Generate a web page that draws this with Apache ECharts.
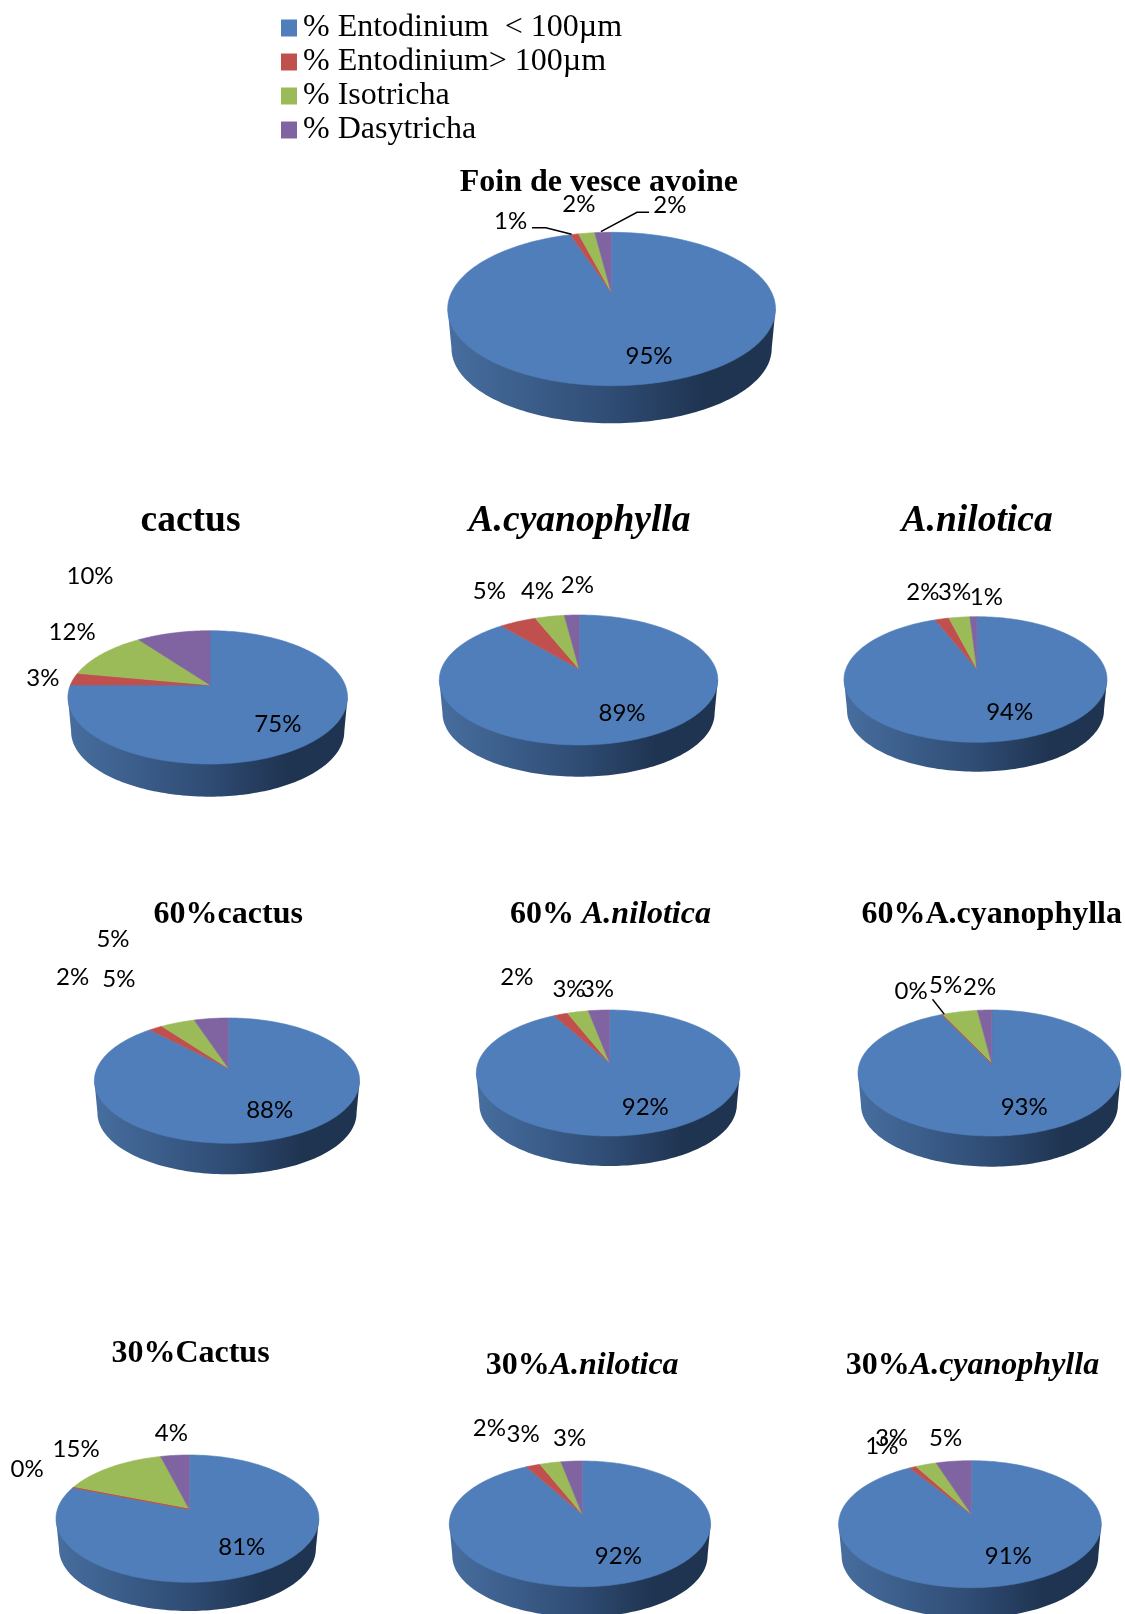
<!DOCTYPE html>
<html>
<head>
<meta charset="utf-8">
<title>Protozoa composition by diet</title>
<style>
  html, body { margin: 0; padding: 0; background: #fff; }
  #chart { width: 1125px; height: 1614px; }
</style>
<script src="https://cdn.jsdelivr.net/npm/echarts@6/dist/echarts.min.js"></script>
</head>
<body>
<div id="chart"></div>
<script>
// Diets, one pie each, in drawing order
const dietTitles = [
  '{b|Foin de vesce avoine}',
  '{B|cactus}',
  '{I|A.cyanophylla}',
  '{I|A.nilotica}',
  '{b|60%cactus}',
  '{b|60% }{i|A.nilotica}',
  '{b|60%A.cyanophylla}',
  '{b|30%Cactus}',
  '{b|30%}{i|A.nilotica}',
  '{b|30%}{i|A.cyanophylla}'
];

// Share of each protozoa group per diet (%)
const protozoaNames = ['% Entodinium  < 100µm', '% Entodinium> 100µm', '% Isotricha', '% Dasytricha'];
const entodiniumSmall = [95, 75, 89, 94, 88, 92, 93, 81, 92, 91];
const entodiniumLarge = [1, 3, 5, 2, 2, 2, 0, 0, 2, 1];
const isotricha = [2, 12, 4, 3, 5, 3, 5, 15, 3, 3];
const dasytricha = [2, 10, 2, 1, 5, 3, 2, 4, 3, 5];
const protozoaRows = [entodiniumSmall, entodiniumLarge, isotricha, dasytricha];
const protozoaColors = ['#4F7EBA', '#C0504D', '#9BBB59', '#8064A2'];

// Disc outline per pie: left, right, hubX, hubY, top, bottom, wallBottom
const pieFrames = [
  [447.7, 775.5, 611.2, 292.3, 232.3, 385.7, 423.3],
  [67.9, 347.5, 210, 685, 630.7, 764, 796.7],
  [439.3, 717.8, 579.1, 669, 615, 745, 776.7],
  [844, 1107, 976.9, 669, 616.7, 742.3, 771.7],
  [94.4, 359.6, 228.4, 1068.3, 1018, 1143.3, 1174.3],
  [476.3, 739.9, 609.5, 1062.7, 1010, 1136, 1166],
  [858, 1120.9, 991.9, 1064, 1010, 1136, 1166.7],
  [56, 318.9, 189.3, 1509.3, 1455, 1582.3, 1611],
  [449.3, 710.6, 582.3, 1514.3, 1461, 1586.7, 1617],
  [838.6, 1101.3, 971.2, 1514, 1460.7, 1587.7, 1618]
];

// Percentage label anchors, one [x, y] per pie, for each protozoa group
const labelSpots = [
  [[649, 355.8], [277.9, 723.8], [622, 713.2], [1009.7, 712.2], [269.7, 1109.8], [645.3, 1107.5], [1024.2, 1107.5], [241.8, 1547.2], [618.4, 1555.8], [1008.3, 1556.5]],
  [[510.7, 221.5], [42.9, 678.2], [489.3, 590.8], [922.9, 592.2], [72.7, 977.5], [516.9, 977.5], [911.2, 990.8], [27.1, 1469.2], [489.3, 1428.2], [881.8, 1446.5]],
  [[578.9, 204.2], [72.1, 632.2], [537.5, 590.8], [954.6, 592.2], [118.9, 979.2], [569, 989.2], [945.7, 985.5], [76.1, 1448.8], [523.2, 1434.2], [891.5, 1438.2]],
  [[669.8, 204.8], [90, 576.5], [577.3, 585.5], [986.3, 597.2], [113, 939.2], [597.5, 989.2], [979.7, 986.8], [171.4, 1433.2], [569.6, 1438.2], [945.6, 1438.2]]
];

// Leader lines for labels pulled away from thin slices
const leaderPaths = [
  [[532, 227.7], [545.8, 227.7], [571.6, 234.3]],
  [[649.1, 212.3], [637, 212.3], [600.9, 231.7]],
  [[932.5, 999.3], [944.3, 1014.3]]
];

// Title anchors: left edge and top of the text box
const titleSpots = [
  [459.7, 167], [140.5, 502], [468.6, 502], [901.6, 502], [153.6, 899], [510, 899],
  [861.5, 899], [111.4, 1338], [485.7, 1350], [845.8, 1350]
];

const serif = '"Liberation Serif", "Times New Roman", serif';

// Perspective mapping of a unit disc onto the tilted pie top.
// The near edge is enlarged, so the hub sits above the middle of the ellipse.
function discProjector(frame) {
  const [left, right, hubX, hubY, top, bottom] = frame;
  const up = hubY - top;
  const down = bottom - hubY;
  const k = (down - up) / (down + up);
  const ry = up * (1 + k);
  const squeeze = Math.sqrt(1 - k * k);
  const rxLeft = (hubX - left) * squeeze;
  const rxRight = (right - hubX) * squeeze;
  return function (u, v) {
    const w = 1 - k * v;
    return [hubX + (u < 0 ? rxLeft : rxRight) * u / w, hubY + ry * v / w];
  };
}

function tiltOf(frame) {
  const up = frame[3] - frame[4];
  const down = frame[5] - frame[3];
  return (down - up) / (down + up);
}

// Top face of one slice, angles running clockwise from twelve o'clock
function slicePoints(pieIndex, groupIndex) {
  const project = discProjector(pieFrames[pieIndex]);
  let total = 0;
  let before = 0;
  protozoaRows.forEach(function (row, i) {
    total += row[pieIndex];
    if (i < groupIndex) before += row[pieIndex];
  });
  const from = before / total * Math.PI * 2;
  const span = protozoaRows[groupIndex][pieIndex] / total * Math.PI * 2;
  const steps = Math.max(1, Math.ceil(span / 0.025));
  const pts = [[pieFrames[pieIndex][2], pieFrames[pieIndex][3]]];
  for (let s = 0; s <= steps; s++) {
    const a = from + span * s / steps;
    pts.push(project(Math.sin(a), -Math.cos(a)));
  }
  return pts;
}

// Visible side wall: the front half of a slightly smaller disc lowered under the top face
function wallPoints(pieIndex) {
  const frame = pieFrames[pieIndex];
  const project = discProjector(frame);
  const k = tiltOf(frame);
  const midY = (frame[4] + frame[5]) / 2;
  const midX = (frame[0] + frame[1]) / 2;
  const shrink = 0.977;
  const drop = frame[6] - (midY + (frame[5] - midY) * shrink);
  const sideAngle = Math.asin(k);
  const pts = [];
  const rimL = project(-Math.cos(sideAngle), k);
  const rimR = project(Math.cos(sideAngle), k);
  pts.push(rimR);
  const n = 120;
  for (let s = 0; s <= n; s++) {
    const t = sideAngle + (Math.PI - 2 * sideAngle) * s / n;
    const p = project(Math.cos(t), Math.sin(t));
    pts.push([midX + (p[0] - midX) * shrink, midY + (p[1] - midY) * shrink + drop]);
  }
  pts.push(rimL);
  return pts;
}

const wallFill = new echarts.graphic.LinearGradient(0, 0, 1, 0, [
  { offset: 0, color: '#476E9F' },
  { offset: 0.5, color: '#2F4C74' },
  { offset: 0.78, color: '#1F3451' },
  { offset: 1, color: '#1F3450' }
]);

const wallSeries = {
  type: 'custom',
  name: 'wall',
  coordinateSystem: 'none',
  silent: true,
  data: pieFrames.map(function (f, i) { return [i]; }),
  renderItem: function (params, api) {
    return {
      type: 'polygon',
      shape: { points: wallPoints(api.value(0)) },
      style: { fill: wallFill }
    };
  }
};

const groupSeries = protozoaNames.map(function (name, groupIndex) {
  return {
    type: 'custom',
    name: name,
    coordinateSystem: 'none',
    silent: true,
    itemStyle: { color: protozoaColors[groupIndex] },
    data: protozoaRows[groupIndex].map(function (v, i) { return [i, v]; }),
    renderItem: function (params, api) {
      const pie = api.value(0);
      const value = api.value(1);
      const spot = labelSpots[groupIndex][pie];
      return {
        type: 'group',
        children: [
          {
            type: 'polygon',
            // an empty slice stays visible as a hairline above its neighbours
            z2: value === 0 ? 5 : 0,
            shape: { points: slicePoints(pie, groupIndex) },
            style: { fill: protozoaColors[groupIndex], stroke: protozoaColors[groupIndex], lineWidth: value === 0 ? 0.9 : 0.6 }
          },
          {
            type: 'text',
            z2: 10,
            style: {
              text: value + '%',
              x: spot[0],
              y: spot[1],
              align: 'center',
              verticalAlign: 'middle',
              fontFamily: 'Lato',
              fontSize: 24,
              fill: '#000'
            }
          }
        ]
      };
    }
  };
});

const leaderSeries = {
  type: 'custom',
  name: 'leaders',
  coordinateSystem: 'none',
  silent: true,
  data: leaderPaths.map(function (p, i) { return [i]; }),
  renderItem: function (params, api) {
    return {
      type: 'polyline',
      shape: { points: leaderPaths[api.value(0)] },
      style: { fill: 'none', stroke: '#000', lineWidth: 1.4 }
    };
  }
};

const titleRich = {
  b: { fontFamily: serif, fontWeight: 'bold', fontSize: 32, color: '#000' },
  i: { fontFamily: serif, fontWeight: 'bold', fontStyle: 'italic', fontSize: 32, color: '#000' },
  B: { fontFamily: serif, fontWeight: 'bold', fontSize: 37.5, color: '#000' },
  I: { fontFamily: serif, fontWeight: 'bold', fontStyle: 'italic', fontSize: 37.5, color: '#000' }
};

const chart = echarts.init(document.getElementById('chart'), null, { renderer: 'canvas' });
chart.setOption({
  animation: false,
  backgroundColor: '#ffffff',
  title: dietTitles.map(function (text, i) {
    return {
      text: text,
      left: titleSpots[i][0],
      top: titleSpots[i][1],
      padding: 0,
      textStyle: { rich: titleRich }
    };
  }),
  legend: {
    orient: 'vertical',
    left: 281,
    top: 11,
    padding: 0,
    itemGap: 0,
    itemWidth: 16,
    itemHeight: 17,
    icon: 'rect',
    selectedMode: false,
    data: protozoaNames,
    textStyle: { fontFamily: serif, fontSize: 32, lineHeight: 34, color: '#000', padding: [0, 0, 0, 1] }
  },
  series: [wallSeries].concat(groupSeries, [leaderSeries])
});
</script>
</body>
</html>
